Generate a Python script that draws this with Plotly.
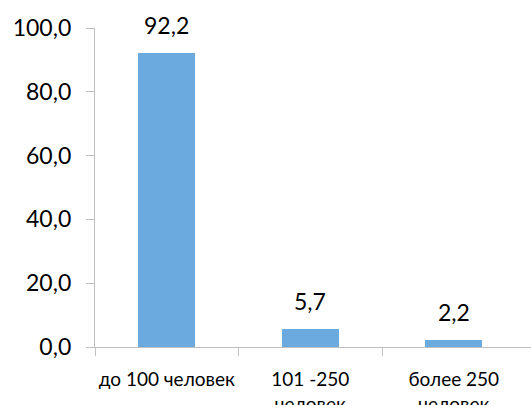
import plotly.graph_objects as go

categories = ["до 100 человек", "101 -250<br>человек", "более 250<br>человек"]
values = [92.2, 5.7, 2.2]
y_ticks = [0, 20, 40, 60, 80, 100]

xs = list(range(len(categories)))

fig = go.Figure()
fig.add_trace(go.Bar(
    x=xs, y=values, width=0.4,
    marker=dict(color="#6AAADF", line=dict(width=0)),
    hoverinfo="skip",
))

for x, v in zip(xs, values):
    fig.add_annotation(
        x=x, y=v, text=f"{v:.1f}".replace(".", ","),
        showarrow=False, yanchor="bottom", yshift=12,
        font=dict(family="Lato", size=23, color="#000000"),
    )

fig.update_layout(
    width=531, height=405,
    margin=dict(l=95, r=0, t=28, b=58, autoexpand=False),
    paper_bgcolor="white", plot_bgcolor="white",
    showlegend=False,
    separators=", ",
    font=dict(family="Lato", color="#000000"),
    bargap=0,
)
fig.update_xaxes(
    range=[-0.5, 2.538], automargin=False,
    tickvals=xs, ticktext=categories,
    ticks="", showgrid=False, zeroline=False,
    showline=True, linecolor="#BFBFBF", linewidth=1.3,
    tickfont=dict(family="Lato", size=19, color="#000000"),
    ticklabelstandoff=15,
    minor=dict(tickvals=[-0.5, 0.5, 1.5], ticks="outside", ticklen=8,
               tickcolor="#BFBFBF", tickwidth=1.3, showgrid=False),
)
fig.update_yaxes(
    range=[0, 100], tickvals=y_ticks, tickformat=".1f", automargin=False,
    ticks="outside", ticklen=8, tickcolor="#BFBFBF", tickwidth=1.3,
    showgrid=False, zeroline=False,
    showline=True, linecolor="#BFBFBF", linewidth=1.3,
    tickfont=dict(family="Lato", size=23, color="#000000"),
    ticklabelstandoff=10,
)

fig.write_html(
    "out.html",
    config={"displayModeBar": False},
    post_script="document.body.style.margin='0';document.body.style.overflow='hidden';",
)
